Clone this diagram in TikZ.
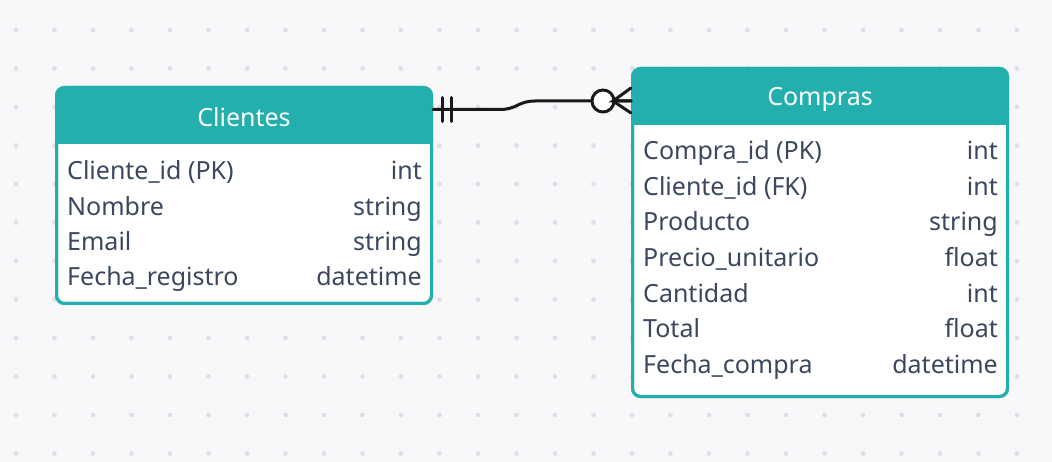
\documentclass[tikz,border=0pt]{standalone}
\usepackage{fontspec}
\setmainfont{Noto Sans}
\usetikzlibrary{calc}
\definecolor{tealhdr}{HTML}{22AFAE}
\definecolor{rowtext}{HTML}{3A475E}
\definecolor{bgpage}{HTML}{F8F8FA}
\definecolor{griddot}{HTML}{E0E0E4}
\tikzset{
  tablebox/.style={draw=tealhdr, line width=3pt, rounded corners=8pt, fill=white, inner sep=0pt, outer sep=0pt},
  titletext/.style={text=white, font=\fontsize{25}{25}\selectfont},
  fieldname/.style={anchor=base west, inner sep=0pt, text=rowtext, font=\fontsize{25}{25}\selectfont},
  fieldtype/.style={anchor=base east, inner sep=0pt, text=rowtext, font=\fontsize{25}{25}\selectfont},
  rel/.style={line width=3pt, black!90, line cap=round}
}

\begin{document}
\begin{tikzpicture}[x=1pt,y=-1pt]
			%%%%% START %%%%%
			\fill[bgpage] (0,0) rectangle (1052,462);
			\foreach \i in {0,...,26}
				\foreach \j in {0,...,11}
					\fill[griddot] (16+38.5*\i, 30+38.5*\j) circle (2.4);
			
			% Clientes
			\node[tablebox, minimum width=375, minimum height=216] (clientes) at (244,195.5) {};
			\begin{scope}
				\clip[rounded corners=8pt] (clientes.north west) rectangle (clientes.south east);
				\fill[tealhdr] (clientes.north west) rectangle ($(clientes.north east)+(0,57)$);
			\end{scope}
			\draw[tealhdr, line width=3pt, rounded corners=8pt] (clientes.north west) rectangle (clientes.south east);
			\node[titletext] (clientes-title) at ($(clientes.north)+(0,30)$) {Clientes};
			\foreach \name/\type [count=\k] in {Cliente\_id (PK)/int, Nombre/string, Email/string, Fecha\_registro/datetime}{
				\node[fieldname] (cli-n\k) at (67, 180+35.3*\k-35.3) {\name};
				\node[fieldtype] (cli-t\k) at (422, 180+35.3*\k-35.3) {\type};
			}
			
			% Compras
			\node[tablebox, minimum width=375, minimum height=328] (compras) at (820,232.5) {};
			\begin{scope}
				\clip[rounded corners=8pt] (compras.north west) rectangle (compras.south east);
				\fill[tealhdr] (compras.north west) rectangle ($(compras.north east)+(0,57)$);
			\end{scope}
			\draw[tealhdr, line width=3pt, rounded corners=8pt] (compras.north west) rectangle (compras.south east);
			\node[titletext] (compras-title) at ($(compras.north)+(0,31)$) {Compras};
			\foreach \name/\type [count=\k] in {Compra\_id (PK)/int, Cliente\_id (FK)/int, Producto/string, Precio\_unitario/float, Cantidad/int, Total/float, Fecha\_compra/datetime}{
				\node[fieldname] (com-n\k) at (643, 160+35.5*\k-35.5) {\name};
				\node[fieldtype] (com-t\k) at (998, 160+35.5*\k-35.5) {\type};
			}
			
			% relation
			\coordinate (relA) at ($(clientes.north east)+(1.5,22)$);
			\coordinate (relB) at ($(compras.north west)+(-1.5,32.5)$);
			\draw[rel] (relA) -- ($(relA)+(67,0)$) .. controls +(17,0) and +(-17,0) .. ($(relB)+(-96,0)$) -- (relB);
			\draw[rel] ($(relA)+(9,-12)$) -- ++(0,24);
			\draw[rel] ($(relA)+(18,-12)$) -- ++(0,24);
			\draw[rel, fill=white] ($(relB)+(-28,0)$) circle (11);
			\draw[rel] (relB) -- ++(-18,0) -- ($(relB)+(0,-13)$);
			\draw[rel] ($(relB)+(-18,0)$) -- ($(relB)+(0,12)$);
			%%%%% END %%%%%
\end{tikzpicture}
\end{document}
